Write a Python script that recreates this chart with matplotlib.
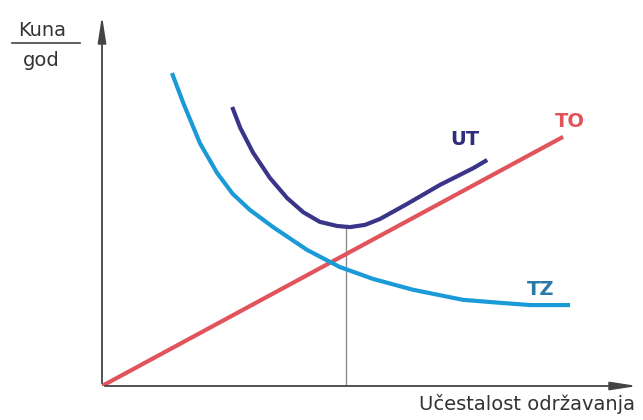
import matplotlib
matplotlib.use('Agg')
import matplotlib.pyplot as plt
from matplotlib.lines import Line2D

# Krivulje troškova (očitano sa slike, proizvoljne jedinice)
to_x = [0.0, 8.57]
to_y = [0.0, 6.68]

tz_x = [1.30, 1.51, 1.82, 2.14, 2.43, 2.75, 3.18, 3.81, 4.42, 5.04, 5.78, 6.71, 7.40, 7.96, 8.70]
tz_y = [8.39, 7.59, 6.51, 5.71, 5.15, 4.72, 4.26, 3.65, 3.19, 2.87, 2.58, 2.31, 2.23, 2.17, 2.17]

ut_x = [2.42, 2.57, 2.81, 3.12, 3.44, 3.74, 4.05, 4.37, 4.61, 4.89, 5.17, 5.67, 6.28, 6.90, 7.16]
ut_y = [7.48, 6.92, 6.25, 5.58, 5.04, 4.66, 4.40, 4.29, 4.26, 4.32, 4.48, 4.88, 5.39, 5.84, 6.06]

opt_x = 4.54
opt_y = 4.26

fig = plt.figure(figsize=(6.43, 4.2), dpi=100)
ax = fig.add_axes([102 / 643, 34 / 420, 538 / 643, 373 / 420])
ax.set_xlim(0, 10)
ax.set_ylim(0, 10)
ax.axis('off')

# osi sa strelicama
arrow = dict(arrowstyle='-|>,head_length=1.6,head_width=0.25', color='#444444', lw=1.3)
ax.annotate('', xy=(10, 0), xytext=(0, 0), arrowprops=arrow, annotation_clip=False)
ax.annotate('', xy=(0, 10), xytext=(0, 0), arrowprops=arrow, annotation_clip=False)

ax.plot([opt_x, opt_x], [0, opt_y], color='#8a8a8a', lw=1.0)

line_kw = dict(lw=3, solid_capstyle='butt', solid_joinstyle='round')
ax.plot(to_x, to_y, color='#e2545c', **line_kw)
ax.plot(tz_x, tz_y, color='#1b9ad8', **line_kw)
ax.plot(ut_x, ut_y, color='#3a3588', **line_kw)

ax.text(8.7, 7.1, 'TO', color='#e2545c', fontsize=14, fontweight='bold', ha='center', va='center')
ax.text(6.75, 6.6, 'UT', color='#2e2e7a', fontsize=14, fontweight='bold', ha='center', va='center')
ax.text(8.15, 2.6, 'TZ', color='#2a7aa8', fontsize=14, fontweight='bold', ha='center', va='center')

ax.text(9.91, -0.22, 'Učestalost održavanja', color='#333333', fontsize=14,
        ha='right', va='top', clip_on=False)

fig.text(42 / 643, 1 - 30 / 420, 'Kuna', color='#333333', fontsize=14, ha='center', va='center')
fig.text(41 / 643, 1 - 60 / 420, 'god', color='#333333', fontsize=14, ha='center', va='center')
fig.add_artist(Line2D([12 / 643, 80 / 643], [1 - 43 / 420, 1 - 43 / 420], color='#444444', lw=1.2))

fig.savefig('out.png', dpi=100)
